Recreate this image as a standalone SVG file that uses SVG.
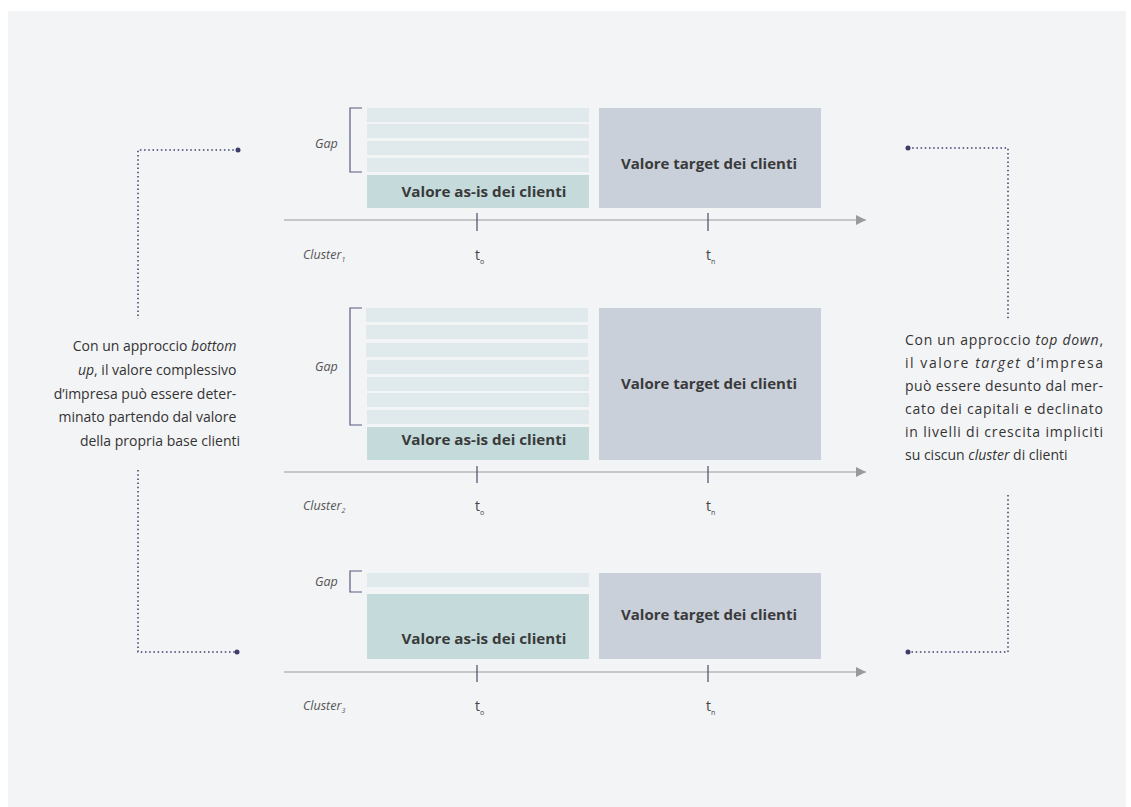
<svg xmlns="http://www.w3.org/2000/svg" width="1131" height="807" viewBox="0 0 1131 807">
<defs>
<style>
.t{font-family:"Open Sans","Liberation Sans",sans-serif;fill:#333;}
.b{font-weight:bold;font-size:15px;text-anchor:middle;fill:#3a3a3a;}
.lab{font-size:12.5px;font-style:italic;fill:#555;}
.tt{font-size:14px;fill:#444;}
.side{font-size:14px;fill:#333;}
.gap{fill:#e0e9eb;}
.asis{fill:#c4dadb;}
.tgt{fill:#c9d0da;}
.axis{stroke:#9a9a9a;stroke-width:1.2;fill:none;}
.tick{stroke:#4a4a6e;stroke-width:1.2;}
.br{stroke:#5a5a80;stroke-width:1.2;fill:none;}
.dot{stroke:#3d3d6b;stroke-width:1.5;stroke-dasharray:1.5 2.7;fill:none;}
</style>
<marker id="ah" viewBox="0 0 10 10" refX="10" refY="5" markerWidth="15" markerHeight="10" markerUnits="userSpaceOnUse" orient="auto"><path d="M0,0 L10,5 L0,10 Z" fill="#9a9a9a"/></marker>
</defs>
<rect x="0" y="0" width="1131" height="807" fill="#ffffff"/>
<rect x="8" y="11" width="1118" height="796" fill="#f3f4f6"/>

<g id="cluster1">
<rect class="gap" x="367" y="108" width="222" height="14"/>
<rect class="gap" x="367" y="124" width="222" height="14"/>
<rect class="gap" x="367" y="141" width="222" height="14"/>
<rect class="gap" x="367" y="158" width="222" height="14"/>
<rect class="asis" x="367" y="175" width="222" height="33"/>
<text class="t b" x="484" y="197" textLength="165" lengthAdjust="spacingAndGlyphs">Valore as-is dei clienti</text>
<rect class="tgt" x="599" y="108" width="222" height="100"/>
<text class="t b" x="709" y="169" textLength="176" lengthAdjust="spacingAndGlyphs">Valore target dei clienti</text>
<path class="br" d="M362,108 H350 V172 H362"/>
<text class="t lab" x="315" y="148">Gap</text>
<text class="t lab" x="303" y="259">Cluster<tspan font-size="7" dy="3">1</tspan></text>
<text class="t tt" x="475" y="260">t<tspan font-size="7" dy="4">o</tspan></text>
<text class="t tt" x="706" y="260">t<tspan font-size="7" dy="4">n</tspan></text>
</g>

<g id="cluster2">
<rect class="gap" x="366" y="308" width="222" height="14"/>
<rect class="gap" x="366" y="325" width="222" height="14"/>
<rect class="gap" x="366" y="343" width="222" height="14"/>
<rect class="gap" x="367" y="360" width="222" height="14"/>
<rect class="gap" x="367" y="377" width="222" height="14"/>
<rect class="gap" x="367" y="393" width="222" height="14"/>
<rect class="gap" x="367" y="410" width="222" height="14"/>
<rect class="asis" x="367" y="427" width="222" height="33"/>
<text class="t b" x="484" y="445" textLength="165" lengthAdjust="spacingAndGlyphs">Valore as-is dei clienti</text>
<rect class="tgt" x="599" y="308" width="222" height="152"/>
<text class="t b" x="709" y="389" textLength="176" lengthAdjust="spacingAndGlyphs">Valore target dei clienti</text>
<path class="br" d="M362,308 H350 V425 H362"/>
<text class="t lab" x="315" y="371">Gap</text>
<text class="t lab" x="303" y="510">Cluster<tspan font-size="7" dy="3">2</tspan></text>
<text class="t tt" x="475" y="511">t<tspan font-size="7" dy="4">o</tspan></text>
<text class="t tt" x="706" y="511">t<tspan font-size="7" dy="4">n</tspan></text>
</g>

<g id="cluster3">
<rect class="gap" x="367" y="573" width="222" height="14"/>
<rect class="asis" x="367" y="594" width="222" height="65"/>
<text class="t b" x="484" y="644" textLength="165" lengthAdjust="spacingAndGlyphs">Valore as-is dei clienti</text>
<rect class="tgt" x="599" y="573" width="222" height="86"/>
<text class="t b" x="709" y="620" textLength="176" lengthAdjust="spacingAndGlyphs">Valore target dei clienti</text>
<path class="br" d="M362,571 H350 V592 H362"/>
<text class="t lab" x="315" y="586">Gap</text>
<text class="t lab" x="303" y="710">Cluster<tspan font-size="7" dy="3">3</tspan></text>
<text class="t tt" x="475" y="711">t<tspan font-size="7" dy="4">o</tspan></text>
<text class="t tt" x="706" y="711">t<tspan font-size="7" dy="4">n</tspan></text>
</g>

<g id="left-note">
<text class="t side" text-anchor="end">
<tspan x="240" y="351">Con un approccio <tspan font-style="italic">bottom</tspan></tspan>
<tspan x="240" y="375"><tspan font-style="italic">up</tspan>, il valore complessivo</tspan>
<tspan x="240" y="399">d’impresa può essere deter-</tspan>
<tspan x="240" y="422">minato partendo dal valore</tspan>
<tspan x="240" y="446">della propria base clienti</tspan>
</text>
</g>

<g id="right-note">
<text class="t side" x="905" y="345" textLength="198" lengthAdjust="spacing">Con un approccio <tspan font-style="italic">top down</tspan>,</text>
<text class="t side" x="905" y="368" textLength="198" lengthAdjust="spacing">il valore <tspan font-style="italic">target</tspan> d’impresa</text>
<text class="t side" x="905" y="391" textLength="198" lengthAdjust="spacing">può essere desunto dal mer-</text>
<text class="t side" x="905" y="414" textLength="198" lengthAdjust="spacing">cato dei capitali e declinato</text>
<text class="t side" x="905" y="437" textLength="198" lengthAdjust="spacing">in livelli di crescita impliciti</text>
<text class="t side" x="905" y="460">su ciscun <tspan font-style="italic">cluster</tspan> di clienti</text>
</g>

<g id="connectors">
<line class="axis" x1="284" y1="220" x2="866" y2="220" marker-end="url(#ah)"/>
<line class="axis" x1="284" y1="472" x2="866" y2="472" marker-end="url(#ah)"/>
<line class="axis" x1="284" y1="672" x2="866" y2="672" marker-end="url(#ah)"/>
<line class="tick" x1="477" y1="213" x2="477" y2="231"/>
<line class="tick" x1="708" y1="213" x2="708" y2="231"/>
<line class="tick" x1="477" y1="466" x2="477" y2="483"/>
<line class="tick" x1="708" y1="466" x2="708" y2="483"/>
<line class="tick" x1="477" y1="665" x2="477" y2="682"/>
<line class="tick" x1="708" y1="665" x2="708" y2="682"/>
<path class="dot" d="M238,150 H138 V319"/>
<path class="dot" d="M138,470 V652 H238"/>
<path class="dot" d="M908,148 H1008 V319"/>
<path class="dot" d="M1008,495 V652 H908"/>
<circle cx="238" cy="150" r="2.5" fill="#3d3d6b"/>
<circle cx="237" cy="652" r="2.5" fill="#3d3d6b"/>
<circle cx="908" cy="148" r="2.5" fill="#3d3d6b"/>
<circle cx="908" cy="652" r="2.5" fill="#3d3d6b"/>
</g>
</svg>
